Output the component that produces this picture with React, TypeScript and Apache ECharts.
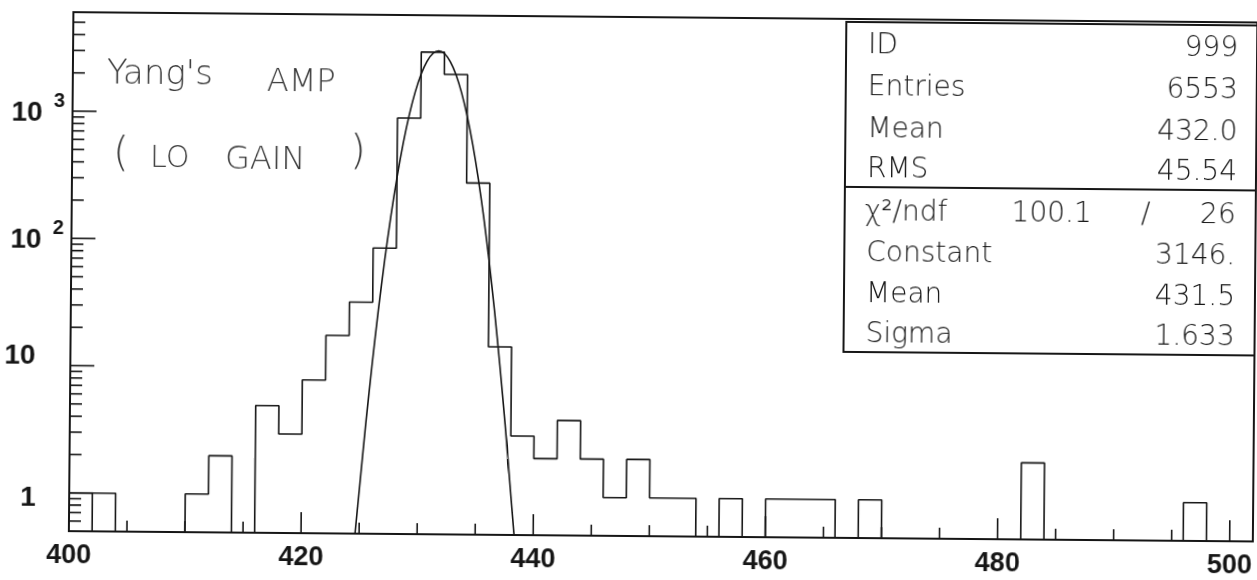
import React, { useEffect, useRef } from "react";
import * as echarts from "echarts";

// ---- data ----
const X_START = 400;
const X_END = 502;
const BIN_WIDTH = 2;
const Y_MIN = 0.5;
const Y_MAX = 6000;

// counts per 2-unit bin, starting at 400
const counts = [
  1, 1, 0, 0, 0, 1, 2, 0, 5, 3,
  8, 18, 33, 88, 930, 3080, 2060, 290, 15, 3,
  2, 4, 2, 1, 2, 1, 1, 0, 1, 0,
  1, 1, 1, 0, 1, 0, 0, 0, 0, 0,
  0, 2, 0, 0, 0, 0, 0, 0, 1, 0,
  0,
];

// gaussian fit curve
const fitX = [424.65, 425, 425.5, 426, 426.5, 427, 427.5, 428, 428.5, 429, 429.5, 430, 430.5, 431, 431.5,
  432, 432.5, 433, 433.5, 434, 434.5, 435, 435.5, 436, 436.5, 437, 437.5, 438, 438.35];
const fitY = [0.5, 1.14, 3.7, 10.8, 29, 70.6, 157, 316, 582, 975, 1486, 2063, 2608, 3002, 3146,
  3002, 2608, 2063, 1486, 975, 582, 316, 157, 70.6, 29, 10.8, 3.7, 1.14, 0.5];

const xTicksMajor = [400, 420, 440, 460, 480, 500];
const xTicksMinor = [405, 410, 415, 425, 430, 435, 445, 450, 455, 465, 470, 475, 485, 490, 495];
const yTicksMajor = [1, 10, 100, 1000];
const yTicksMinor = [0.6, 0.7, 0.8, 0.9, 2, 3, 4, 5, 6, 7, 8, 9, 20, 30, 40, 50, 60, 70, 80, 90,
  200, 300, 400, 500, 600, 700, 800, 900, 2000, 3000, 4000, 5000];

const statLabels = ["ID", "Entries", "Mean", "RMS"];
const statValues = ["999", "6553", "432.0", "45.54"];
const chi2Label = "χ²/ndf";
const chi2Value = "100.1";
const ndfValue = "26";
const fitLabels = ["Constant", "Mean", "Sigma"];
const fitValues = ["3146.", "431.5", "1.633"];

const noteLine1 = ["Yang's", "AMP"];
const noteLine2 = ["(", "LO", "GAIN", ")"];

export default function App() {
  const ref = useRef<HTMLDivElement>(null);

  useEffect(() => {
    if (!ref.current) return;
    const chart = echarts.init(ref.current, undefined, { renderer: "svg" });

    // histogram outline
    const histPts: number[][] = [[X_START, Y_MIN]];
    counts.forEach((c, i) => {
      const lo = X_START + i * BIN_WIDTH;
      const hi = lo + BIN_WIDTH;
      const v = c > 0 ? c : Y_MIN;
      histPts.push([lo, v], [hi, v]);
    });
    histPts.push([X_START + counts.length * BIN_WIDTH, Y_MIN]);

    const edgePts = [
      [X_START + BIN_WIDTH, Y_MIN],
      [X_START + BIN_WIDTH, counts[1]],
    ];

    const fitPts = fitX.map((x, i) => [x, fitY[i]]);

    const ink = "#161616";
    const tickSeries = (data: number[][], horizontal: boolean, len: number) => ({
      type: "custom",
      silent: true,
      z: 3,
      data,
      renderItem: (_p: any, api: any) => {
        const p = api.coord([api.value(0), api.value(1)]);
        return {
          type: "line",
          shape: horizontal
            ? { x1: p[0], y1: p[1], x2: p[0] + len, y2: p[1] }
            : { x1: p[0], y1: p[1], x2: p[0], y2: p[1] - len },
          style: { stroke: ink, lineWidth: 1.6 },
        };
      },
    });

    const labFont = '"Liberation Sans", Arial, Helvetica, sans-serif';
    const statFont = '"DejaVu Sans", Verdana, sans-serif';
    const handFont = '"DejaVu Sans", sans-serif';

    const txt = (text: string, x: number, y: number, align: string, size = 28, extra: any = {}) => ({
      type: "text",
      x,
      y,
      z: 20,
      style: {
        text,
        fill: ink,
        fontSize: size,
        fontFamily: statFont,
        fontWeight: 200,
        align,
        verticalAlign: "middle",
        ...extra,
      },
    });

    const upperRows = [41, 83, 125, 165];
    const lowerRows = [249, 290, 330];
    const chiRow = 208;

    const hand = { fill: "#3a3a3a", fontFamily: handFont, fontWeight: 200 };

    const graphics: any[] = [
      {
        type: "rect",
        z: 10,
        shape: { x: 844, y: 20, width: 411, height: 330 },
        style: { fill: "#fff", stroke: ink, lineWidth: 2 },
      },
      {
        type: "line",
        z: 11,
        shape: { x1: 844, y1: 185, x2: 1255, y2: 185 },
        style: { stroke: ink, lineWidth: 2 },
      },
      ...statLabels.map((t, i) => txt(t, 866, upperRows[i], "left")),
      ...statValues.map((t, i) => txt(t, 1236, upperRows[i], "right")),
      txt(chi2Label, 864, chiRow, "left"),
      txt(chi2Value, 1091, chiRow, "right"),
      txt("/", 1145, chiRow, "center"),
      txt(ndfValue, 1235, chiRow, "right"),
      ...fitLabels.map((t, i) => txt(t, 866, lowerRows[i], "left")),
      ...fitValues.map((t, i) => txt(t, 1235, lowerRows[i], "right")),
      txt(noteLine1[0], 105, 76, "left", 34, hand),
      txt(noteLine1[1], 265, 83, "left", 32, hand),
      txt(noteLine2[0], 112, 156, "left", 40, hand),
      txt(noteLine2[1], 149, 160, "left", 30, hand),
      txt(noteLine2[2], 224, 161, "left", 32, hand),
      txt(noteLine2[3], 349, 152, "left", 40, hand),
    ];

    const base = { fontFamily: labFont, fontWeight: "bold", color: ink, fontSize: 28 };

    const option: any = {
      animation: false,
      backgroundColor: "#ffffff",
      grid: {
        left: 71,
        top: 17,
        width: 1184,
        height: 519,
        show: true,
        borderColor: ink,
        borderWidth: 2,
        backgroundColor: "transparent",
        containLabel: false,
        outerBoundsMode: "none",
      },
      xAxis: {
        type: "value",
        min: X_START,
        max: X_END,
        interval: 20,
        axisLine: { show: false },
        axisTick: { show: false },
        minorTick: { show: false },
        splitLine: { show: false },
        axisLabel: {
          ...base,
          fontSize: 27,
          margin: 9,
          showMinLabel: true,
          showMaxLabel: false,
          formatter: (v: number) => String(v),
        },
      },
      yAxis: {
        type: "log",
        logBase: 10,
        min: Y_MIN,
        max: Y_MAX,
        axisLine: { show: false },
        axisTick: { show: false },
        minorTick: { show: false },
        splitLine: { show: false },
        axisLabel: {
          ...base,
          showMinLabel: false,
          showMaxLabel: false,
          align: "left",
          margin: 66,
          formatter: (v: number) => {
            const l = Math.log10(v);
            const e = Math.round(l);
            if (Math.abs(l - e) > 0.01) return "";
            if (e === 0) return "{one|1}";
            if (e === 1) return "{ten|10}";
            return `{base|10}{sup|${e}}`;
          },
          rich: {
            one: { ...base, padding: [8, 0, 0, 17] },
            ten: { ...base, padding: [0, 0, 21, 0] },
            base: { ...base, padding: [0, 0, 0, 5] },
            sup: { ...base, fontSize: 20, padding: [0, 0, 23, 11] },
          },
        },
      },
      graphic: graphics,
      series: [
        {
          type: "line",
          data: histPts,
          symbol: "none",
          showSymbol: false,
          lineStyle: { color: ink, width: 1.6 },
          z: 4,
          silent: true,
        },
        {
          type: "line",
          data: edgePts,
          symbol: "none",
          showSymbol: false,
          lineStyle: { color: ink, width: 1.6 },
          z: 4,
          silent: true,
        },
        {
          type: "line",
          data: fitPts,
          symbol: "none",
          showSymbol: false,
          smooth: 0.25,
          lineStyle: { color: ink, width: 1.6 },
          z: 5,
          silent: true,
        },
        tickSeries(xTicksMajor.map((v) => [v, Y_MIN]), false, 21),
        tickSeries(xTicksMinor.map((v) => [v, Y_MIN]), false, 11),
        tickSeries(yTicksMajor.map((v) => [X_START, v]), true, 24),
        tickSeries(yTicksMinor.map((v) => [X_START, v]), true, 12),
      ],
    };

    chart.setOption(option);
    return () => chart.dispose();
  }, []);

  // the scanned original sits slightly rotated on the page
  return (
    <div
      ref={ref}
      style={{
        position: "fixed",
        left: 0,
        top: 0,
        width: 1257,
        height: 580,
        background: "#fff",
        transform: "rotate(0.5deg)",
        transformOrigin: "628.5px 290px",
      }}
    />
  );
}
